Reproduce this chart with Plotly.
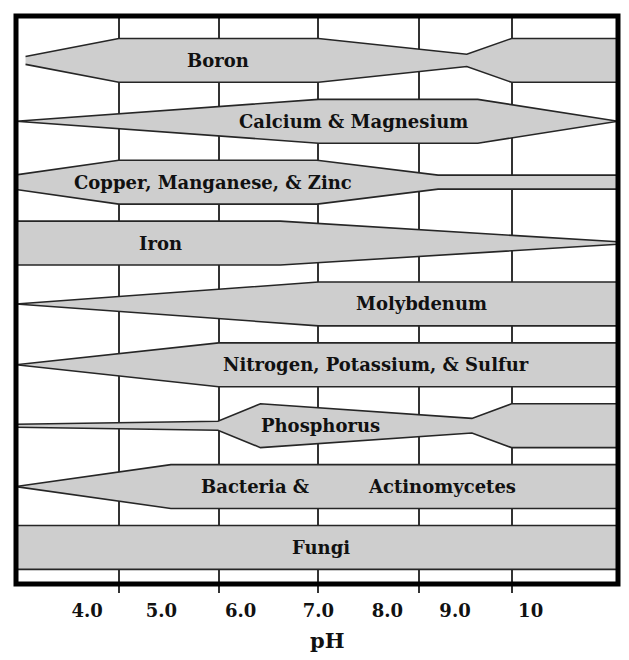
import plotly.graph_objects as go

# ---------------- data ----------------
# Rows (top to bottom) and their labels
ROWS = ["Boron", "Calcium & Magnesium", "Copper, Manganese, & Zinc", "Iron",
        "Molybdenum", "Nitrogen, Potassium, & Sulfur", "Phosphorus",
        "Bacteria & Actinomycetes", "Fungi"]

# Availability profiles: pH breakpoints and relative band half-width (0..0.36)
BORON_PH = [3.13, 4.40, 7.12, 9.14, 9.75, 11.2]
BORON_W = [0.065, 0.36, 0.36, 0.10, 0.36, 0.36]

CAMG_PH = [3.0, 7.12, 9.29, 11.2]
CAMG_W = [0.0, 0.36, 0.36, 0.0]

CUMNZN_PH = [3.0, 4.40, 7.10, 8.75, 11.2]
CUMNZN_W = [0.12, 0.36, 0.36, 0.115, 0.115]

IRON_PH = [3.0, 6.60, 11.2]
IRON_W = [0.36, 0.36, 0.02]

MOLY_PH = [3.0, 7.12, 11.2]
MOLY_W = [0.0, 0.36, 0.36]

NPS_PH = [3.0, 5.76, 11.2]
NPS_W = [0.0, 0.36, 0.36]

PHOS_PH = [3.0, 5.75, 6.33, 9.21, 9.75, 11.2]
PHOS_W = [0.025, 0.074, 0.36, 0.12, 0.36, 0.36]

BACT_PH = [3.0, 5.11, 11.2]
BACT_W = [0.0, 0.36, 0.36]

FUNGI_PH = [3.0, 11.2]
FUNGI_W = [0.36, 0.36]

PROFILES = [(BORON_PH, BORON_W), (CAMG_PH, CAMG_W), (CUMNZN_PH, CUMNZN_W),
            (IRON_PH, IRON_W), (MOLY_PH, MOLY_W), (NPS_PH, NPS_W),
            (PHOS_PH, PHOS_W), (BACT_PH, BACT_W), (FUNGI_PH, FUNGI_W)]

# Label texts and where along the pH scale they sit
LABEL_TEXT = ["Boron", "Calcium & Magnesium", "Copper, Manganese, & Zinc", "Iron",
              "Molybdenum", "Nitrogen, Potassium, & Sulfur", "Phosphorus",
              "Bacteria &", "Actinomycetes", "Fungi"]
LABEL_PH = [5.75, 7.60, 5.69, 4.97, 8.52, 7.90, 7.15, 6.25, 8.80, 7.15]
LABEL_ROW = [0, 1, 2, 3, 4, 5, 6, 7, 7, 8]

# Axis ticks
TICK_TEXT = ["4.0", "5.0", "6.0", "7.0", "8.0", "9.0", "10"]
TICK_POS = [3.97, 4.98, 6.06, 7.12, 8.06, 8.98, 10.01]
GRID_PH = [4.40, 5.76, 7.12, 8.49, 9.75]
AXIS_TITLE = "pH"

X_RANGE = [3.0, 11.2]
Y_RANGE = [8.60, -0.729]

# ---------------- styles ----------------
FILL = "#cecece"
EDGE = "#262626"
GRID = "#333333"
FONT = "DejaVu Serif"

fig = go.Figure()

for i, (xs, ws) in enumerate(PROFILES):
    top = [i - w for w in ws]
    bot = [i + w for w in ws]
    fig.add_trace(go.Scatter(
        x=list(xs) + list(xs)[::-1],
        y=top + bot[::-1],
        fill="toself", fillcolor=FILL,
        mode="lines", line=dict(color=EDGE, width=1.6),
        hoverinfo="skip", showlegend=False, name=ROWS[i],
    ))

# invisible trace to activate the label axis
fig.add_trace(go.Scatter(x=[TICK_POS[0]], y=[0], xaxis="x2", mode="markers",
                         marker=dict(opacity=0), hoverinfo="skip", showlegend=False))

for t, xp, r in zip(LABEL_TEXT, LABEL_PH, LABEL_ROW):
    fig.add_annotation(x=xp, y=r, text=t, showarrow=False,
                       font=dict(family=FONT, size=18, color="#111111", weight="bold"))

# axis title
fig.add_annotation(x=0.517, xref="paper", y=0, yref="paper", yanchor="middle",
                   yshift=-56, text=AXIS_TITLE, showarrow=False,
                   font=dict(family=FONT, size=21, color="#111111", weight="bold"))

fig.add_shape(type="rect", xref="paper", yref="paper", x0=0, x1=1, y0=0, y1=1,
              line=dict(color="black", width=5), layer="above")

# page body has an 8px margin, so the figure is sized to fit inside it
fig.update_layout(
    width=613, height=644,
    margin=dict(l=8, r=3, t=8, b=68, autoexpand=False),
    paper_bgcolor="white", plot_bgcolor="white",
    xaxis=dict(range=X_RANGE, tickvals=GRID_PH, ticktext=[""] * len(GRID_PH),
               ticks="outside", ticklen=8, tickwidth=1.5, tickcolor=GRID,
               showgrid=True, gridcolor=GRID, gridwidth=1.5, automargin=False,
               zeroline=False, showline=False, fixedrange=True),
    xaxis2=dict(range=X_RANGE, overlaying="x", anchor="y", side="bottom",
                tickvals=TICK_POS, ticktext=TICK_TEXT, ticks="",
                showgrid=False, zeroline=False, showline=False, automargin=False,
                ticklabelstandoff=14,
                tickfont=dict(family=FONT, size=18, color="#111111", weight="bold")),
    yaxis=dict(range=Y_RANGE, visible=False, showgrid=False, zeroline=False,
               automargin=False),
)

fig.write_html("out.html")
